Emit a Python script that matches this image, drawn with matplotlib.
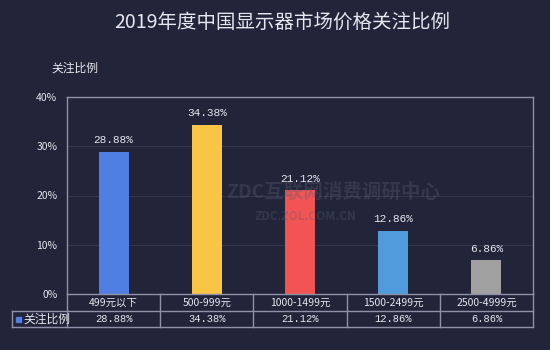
import matplotlib
matplotlib.use('Agg')
import matplotlib.pyplot as plt
from matplotlib.lines import Line2D
from matplotlib.patches import Rectangle

plt.rcParams['font.family'] = ['Noto Sans CJK SC', 'DejaVu Sans']

# data
categories = ['499元以下', '500-999元', '1000-1499元', '1500-2499元', '2500-4999元']
values = [28.88, 34.38, 21.12, 12.86, 6.86]
bar_colors = ['#4f7fe2', '#f8c545', '#f25454', '#4f9bdb', '#a0a0a0']
series_name = '关注比例'
title = '2019年度中国显示器市场价格关注比例'

bg = '#222439'
line_col = '#8f91a6'
text_col = '#e6e6ee'

fig = plt.figure(figsize=(5.5, 3.5), dpi=100, facecolor=bg)
W, H = 550, 350

# plot area in pixels
left, right, top, bottom = 67, 533, 97, 294
ax = fig.add_axes([left / W, 1 - bottom / H, (right - left) / W, (bottom - top) / H])
ax.set_facecolor(bg)

x = list(range(len(categories)))
ax.bar(x, values, width=0.32, color=bar_colors, zorder=3)
for xi, v in zip(x, values):
    ax.text(xi, v + 1.3, f'{v:.2f}%', ha='center', va='bottom', color=text_col,
            fontsize=8, family=['Liberation Mono', 'DejaVu Sans Mono'])

ax.set_xlim(-0.5, len(categories) - 0.5)
ax.set_ylim(0, 40)
ax.set_yticks([0, 10, 20, 30, 40])
ax.set_yticklabels(['0%', '10%', '20%', '30%', '40%'])
ax.tick_params(axis='y', length=0, pad=7, labelsize=7.5, labelcolor=text_col)
ax.set_xticks([])
ax.grid(axis='y', color='#34364d', linewidth=0.8, zorder=0)
for side in ['left', 'top', 'right']:
    ax.spines[side].set_color(line_col)
    ax.spines[side].set_linewidth(1.0)
ax.spines['bottom'].set_visible(False)

# title and axis name
fig.text(282 / W, 1 - 22 / H, title, ha='center', va='center', color=text_col, fontsize=14)
fig.text(75 / W, 1 - 68 / H, series_name, ha='center', va='center', color=text_col, fontsize=8.5)

# data table under the plot
row1, row2, row3 = 294, 311, 327
leg_left = 12
col_w = (right - left) / len(categories)


def fx(px):
    return px / W


def fy(py):
    return 1 - py / H


def hline(x0, x1, y):
    fig.add_artist(Line2D([fx(x0), fx(x1)], [fy(y), fy(y)], color=line_col, linewidth=1.0))


def vline(xp, y0, y1):
    fig.add_artist(Line2D([fx(xp), fx(xp)], [fy(y0), fy(y1)], color=line_col, linewidth=1.0))


hline(left, right, row1)
hline(leg_left, right, row2)
hline(leg_left, right, row3)
vline(leg_left, row2, row3)
vline(left, row1, row3)
for i in range(1, len(categories) + 1):
    vline(left + i * col_w, row1, row3)

for i, (cat, v) in enumerate(zip(categories, values)):
    cx = left + (i + 0.5) * col_w
    fig.text(fx(cx), fy((row1 + row2) / 2), cat, ha='center', va='center',
             color=text_col, fontsize=7.5)
    fig.text(fx(cx), fy((row2 + row3) / 2), f'{v:.2f}%', ha='center', va='center',
             color=text_col, fontsize=7.5, family=['Liberation Mono', 'DejaVu Sans Mono'])

# legend cell
fig.add_artist(Rectangle((fx(16), fy(322)), 5 / W, 5 / H, color=bar_colors[0]))
fig.text(fx(23), fy((row2 + row3) / 2), series_name, ha='left', va='center',
         color=text_col, fontsize=8.5)

# faint watermark
fig.text(fx(333), fy(192), 'ZDC互联网消费调研中心', ha='center', va='center',
         color='#5a5c70', alpha=0.35, fontsize=14, fontweight='bold')
fig.text(fx(305), fy(216), 'ZDC.ZOL.COM.CN', ha='center', va='center',
         color='#5a5c70', alpha=0.35, fontsize=8.5, fontweight='bold')

fig.savefig('out.png', dpi=100, facecolor=bg)
